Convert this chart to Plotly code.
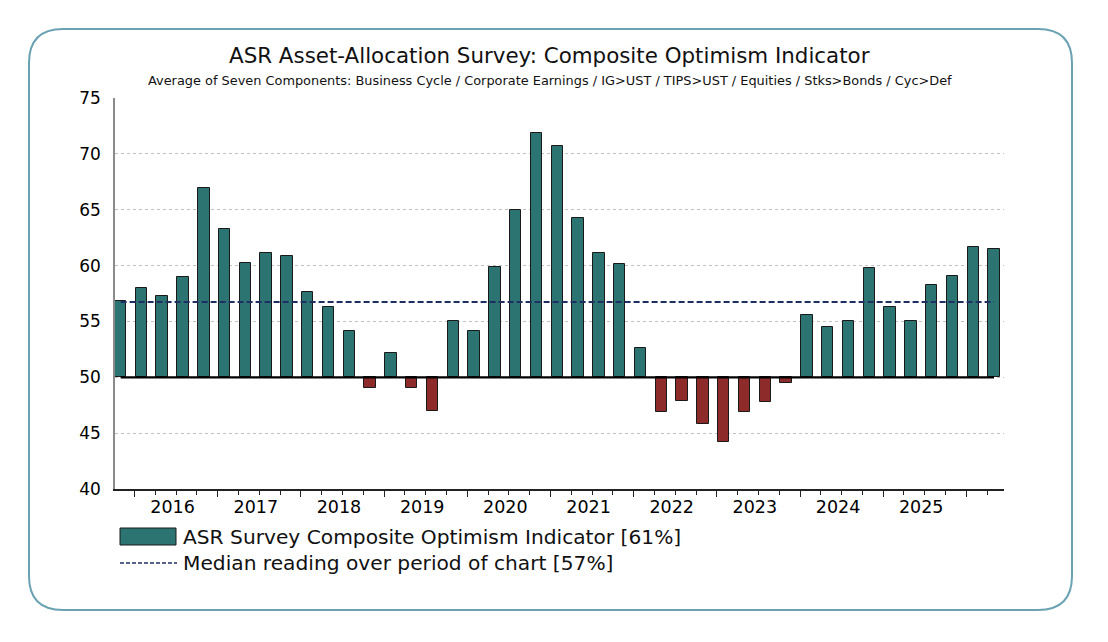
import plotly.graph_objects as go

# quarterly readings, Q4 2015 to Q2 2026
valores = [56.8, 58.0, 57.3, 59.0, 66.9, 63.3, 60.2, 61.1, 60.9, 57.6,
           56.3, 54.1, 49.0, 52.2, 49.0, 47.0, 55.0, 54.1, 59.9, 65.0,
           71.9, 70.7, 64.3, 61.1, 60.1, 52.6, 46.9, 47.9, 45.8, 44.2,
           46.9, 47.8, 49.5, 55.6, 54.5, 55.0, 59.8, 56.3, 55.0, 58.3,
           59.1, 61.7, 61.5]
mediana = 56.75
neutral = 50
anios = ["2016", "2017", "2018", "2019", "2020",
         "2021", "2022", "2023", "2024", "2025"]
y_ticks = [40, 45, 50, 55, 60, 65, 70, 75]

TEAL = "#2b7471"
ROJO = "#8c2b2a"
NAVY = "#1f2f66"
FUENTE = "DejaVu Sans"

# page has an 8px body margin, so the figure sits at (8, 8) in the window
OFF = 8
W, H = 1092, 626
L, T = 115 - OFF, 98 - OFF
R = W - (1004 - OFF)
B = H - (489 - OFF)
pw, ph = W - L - R, H - T - B


def px(x, y):
    # window pixel -> paper
    return (x - OFF - L) / pw, (H - B - (y - OFF)) / ph


idx = list(range(len(valores)))
colores = [TEAL if v >= neutral else ROJO for v in valores]
centros = [2.5 + 4 * k for k in range(len(anios))]
limites = [0.67 + 4 * k for k in range(len(anios) + 1)]

fig = go.Figure()

fig.add_trace(go.Bar(x=idx, y=[v - neutral for v in valores], base=neutral,
                     marker=dict(color=colores, line=dict(color="#1a1a1a", width=1)),
                     width=0.55, showlegend=False,
                     customdata=valores, hovertemplate="%{customdata}<extra></extra>"))

fig.add_trace(go.Scatter(x=[idx[0], idx[-1]], y=[neutral, neutral], mode="lines",
                         line=dict(color="black", width=2.2), showlegend=False,
                         hoverinfo="skip"))

fig.add_trace(go.Scatter(x=[idx[0], idx[-1]], y=[mediana, mediana], mode="lines",
                         line=dict(color=NAVY, width=2, dash="6px,3px"),
                         showlegend=False, hoverinfo="skip"))

# axis only for the long year ticks
fig.add_trace(go.Scatter(x=[0], y=[neutral], xaxis="x2", mode="none",
                         showlegend=False, hoverinfo="skip"))

fig.update_layout(
    width=W, height=H,
    margin=dict(l=L, r=R, t=T, b=B),
    paper_bgcolor="white", plot_bgcolor="white",
    font=dict(family=FUENTE, color="black"),
    bargap=0,
    xaxis=dict(range=[-0.27, 42.48], tickmode="array", tickvals=centros,
               ticktext=anios, ticks="", showgrid=False, zeroline=False,
               showline=True, linecolor="#222", linewidth=1.5,
               tickfont=dict(size=17.5), ticklabelstandoff=1,
               minor=dict(tickmode="linear", tick0=-0.33, dtick=1,
                          ticks="outside", ticklen=4, tickcolor="#222", tickwidth=1)),
    xaxis2=dict(range=[-0.27, 42.48], overlaying="x", anchor="y", side="bottom",
                tickmode="array", tickvals=limites, ticks="outside", ticklen=7,
                tickcolor="#222", tickwidth=1.2, showticklabels=False,
                showgrid=False, zeroline=False, showline=False),
    yaxis=dict(range=[40, 75], tickvals=y_ticks, showgrid=True,
               gridcolor="#c2c2c2", griddash="dot", gridwidth=1,
               zeroline=False, showline=True, linecolor="#8a8a8a", linewidth=1.5,
               ticks="", tickfont=dict(size=17), ticklabelstandoff=9),
)

# title and subtitle
tx, ty = px(549, 55)
fig.add_annotation(text="ASR Asset-Allocation Survey: Composite Optimism Indicator",
                   xref="paper", yref="paper", x=tx, y=ty, showarrow=False,
                   xanchor="center", yanchor="middle",
                   font=dict(size=21.4, color="#111"))
sx, sy = px(550, 80)
fig.add_annotation(text="Average of Seven Components: Business Cycle / Corporate Earnings / "
                        "IG>UST / TIPS>UST / Equities / Stks>Bonds / Cyc>Def",
                   xref="paper", yref="paper", x=sx, y=sy, showarrow=False,
                   xanchor="center", yanchor="middle",
                   font=dict(size=12.9, color="#111"))

# legend drawn by hand
x0, y0 = px(120, 528)
x1, y1 = px(176, 545)
fig.add_shape(type="rect", xref="paper", yref="paper", x0=x0, y0=y0, x1=x1, y1=y1,
              fillcolor=TEAL, line=dict(color="#1a1a1a", width=1))
lx0, ly = px(120, 563)
lx1, _ = px(177, 563)
fig.add_shape(type="line", xref="paper", yref="paper", x0=lx0, y0=ly, x1=lx1, y1=ly,
              line=dict(color=NAVY, width=1.5, dash="4px,2px"))

lx, ty1 = px(181, 537)
_, ty2 = px(181, 563)
fig.add_annotation(text="ASR Survey Composite Optimism Indicator [61%]", xref="paper",
                   yref="paper", x=lx, y=ty1, showarrow=False, xanchor="left",
                   yanchor="middle", font=dict(size=20.2, color="#111"))
fig.add_annotation(text="Median reading over period of chart [57%]", xref="paper",
                   yref="paper", x=lx, y=ty2, showarrow=False, xanchor="left",
                   yanchor="middle", font=dict(size=20.2, color="#111"))

# rounded frame
bl, bt, br, bb, r = 29, 29, 1072, 610, 34
p = lambda x, y: "%.5f,%.5f" % px(x, y)
camino = ("M " + p(bl + r, bt) + " L " + p(br - r, bt) + " Q " + p(br, bt) + " " + p(br, bt + r) +
          " L " + p(br, bb - r) + " Q " + p(br, bb) + " " + p(br - r, bb) +
          " L " + p(bl + r, bb) + " Q " + p(bl, bb) + " " + p(bl, bb - r) +
          " L " + p(bl, bt + r) + " Q " + p(bl, bt) + " " + p(bl + r, bt) + " Z")
fig.add_shape(type="path", xref="paper", yref="paper", path=camino,
              line=dict(color="#6aa2b2", width=2))

fig.write_html("out.html")
